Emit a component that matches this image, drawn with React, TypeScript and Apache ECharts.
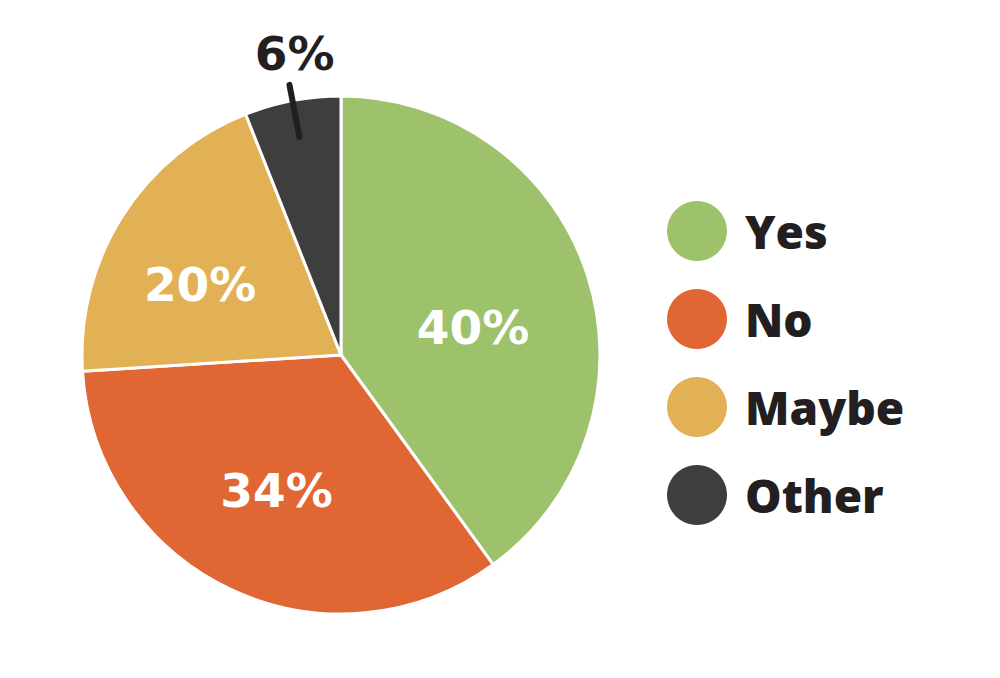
import React, { useEffect, useRef } from "react";
import * as echarts from "echarts";

const categories = ["Yes", "No", "Maybe", "Other"];
const values = [40, 34, 20, 6];
const colors = ["#9DC26B", "#E06733", "#E2B156", "#3E3E3E"];
const INK = "#231F20";
const NUM_FONT = "DejaVu Sans";
const LEGEND_FONT = "Open Sans";
// label nudges (style only)
const labelNudge = [
  [6, 13],
  [-8, 16],
  [-29, 0],
  [0, 0],
];

export default function App() {
  const ref = useRef<HTMLDivElement>(null);
  useEffect(() => {
    if (!ref.current) return;
    const chart = echarts.init(ref.current, null, { renderer: "svg" });
    const mainData = categories.map((name, i) => ({
      name,
      value: values[i],
      itemStyle: { color: colors[i] },
      label: { show: name !== "Other" },
    }));
    const lineData = categories.map((name, i) => ({
      name,
      value: values[i],
      itemStyle: { color: "rgba(0,0,0,0)" },
      label: { show: name === "Other" },
      labelLine: { show: name === "Other" },
    }));
    chart.setOption({
      animation: false,
      backgroundColor: "#ffffff",
      legend: {
        orient: "vertical",
        left: 667,
        top: 201,
        padding: 0,
        itemWidth: 60,
        itemHeight: 60,
        itemGap: 28,
        icon: "circle",
        selectedMode: false,
        itemStyle: { borderWidth: 0 },
        data: categories.map((name, i) => ({ name, itemStyle: { color: colors[i], borderWidth: 0 } })),
        textStyle: {
          fontFamily: LEGEND_FONT,
          fontWeight: 800,
          fontSize: 46,
          lineHeight: 56,
          color: INK,
          padding: [0, 0, 0, 13],
        },
      },
      series: [
        {
          type: "pie",
          z: 2,
          center: [341, 355],
          radius: [0, 259],
          startAngle: 90,
          clockwise: true,
          silent: true,
          itemStyle: { borderColor: "#ffffff", borderWidth: 3 },
          label: {
            position: "inside",
            formatter: "{c}%",
            color: "#ffffff",
            fontFamily: NUM_FONT,
            fontWeight: "bold",
            fontSize: 47,
          },
          labelLayout: (p: any) => ({
            dx: labelNudge[p.dataIndex][0],
            dy: labelNudge[p.dataIndex][1],
          }),
          labelLine: { show: false },
          data: mainData,
        },
        {
          type: "pie",
          z: 5,
          center: [341, 355],
          radius: [0, 222],
          startAngle: 90,
          clockwise: true,
          silent: true,
          itemStyle: { borderWidth: 0 },
          label: {
            position: "outside",
            formatter: "{v|{c}%}",
            distanceToLabelLine: -45,
            rich: {
              v: {
                color: INK,
                fontFamily: NUM_FONT,
                fontWeight: "bold",
                fontSize: 47,
                padding: [0, 0, 62, 0],
              },
            },
          },
          labelLine: {
            length: 53,
            length2: 0,
            smooth: false,
            lineStyle: { color: INK, width: 6, cap: "round" },
          },
          data: lineData,
        },
      ],
    });
    return () => chart.dispose();
  }, []);
  return (
    <div
      ref={ref}
      style={{ position: "absolute", left: 0, top: 0, width: 1000, height: 678 }}
    />
  );
}
